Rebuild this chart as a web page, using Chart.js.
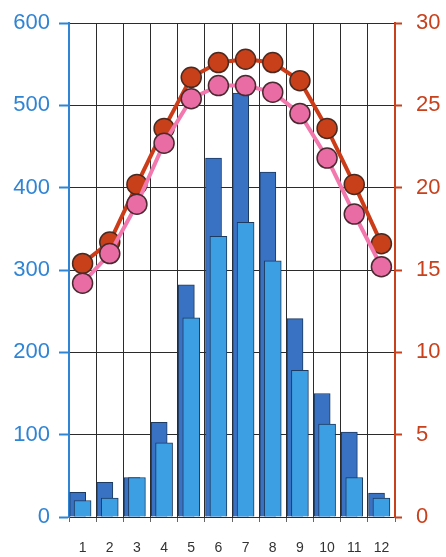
<!DOCTYPE html>
<html>
<head>
<meta charset="utf-8">
<script src="https://cdn.jsdelivr.net/npm/chart.js@4/dist/chart.umd.min.js"></script>
<style>
  html, body { margin: 0; padding: 0; background: #ffffff; }
  #wrap { width: 446px; height: 557px; position: relative; }
</style>
</head>
<body>
<div id="wrap"><canvas id="climate"></canvas></div>
<script>
// Month labels along the bottom
const months = ['1', '2', '3', '4', '5', '6', '7', '8', '9', '10', '11', '12'];

// Monthly precipitation (mm), two series drawn as overlapping bars
const rainDark = [30, 42, 48, 115, 282, 436, 515, 419, 241, 150, 103, 29];
const rainLight = [20, 23, 48, 90, 242, 341, 358, 311, 178, 113, 48, 23];

// Monthly temperatures (°C)
const tempHigh = [15.4, 16.7, 20.2, 23.6, 26.7, 27.6, 27.8, 27.6, 26.5, 23.6, 20.2, 16.6];
const tempLow = [14.2, 16.0, 19.0, 22.7, 25.4, 26.2, 26.2, 25.8, 24.5, 21.8, 18.4, 15.2];

// Axis tick steps
const rainTicks = { min: 0, max: 600, step: 100 };
const tempTicks = { min: 0, max: 30, step: 5 };

const BLUE_AXIS = '#2f84d4';
const RED_AXIS = '#c8401c';
const GRID = '#2b2b2b';

// The darker bars sit a little left of each month's centre: they use a
// hidden linear axis whose window is nudged by a fraction of a month.
const DARK_SHIFT = 0.18;

const chart = new Chart(document.getElementById('climate'), {
  data: {
    labels: months,
    datasets: [
      {
        type: 'line', label: 'low', data: tempLow, yAxisID: 'y2', xAxisID: 'x',
        order: 0, borderColor: '#f278ad', borderWidth: 4,
        pointRadius: 10, pointHoverRadius: 10,
        pointBackgroundColor: '#ea6ca4', pointBorderColor: '#4a2a30', pointBorderWidth: 1.5,
        tension: 0, clip: false
      },
      {
        type: 'line', label: 'high', data: tempHigh, yAxisID: 'y2', xAxisID: 'x',
        order: 1, borderColor: '#cc3c18', borderWidth: 4,
        pointRadius: 10, pointHoverRadius: 10,
        pointBackgroundColor: '#c8401a', pointBorderColor: '#4a2a20', pointBorderWidth: 1.5,
        tension: 0, clip: false
      },
      {
        type: 'bar', label: 'rain b', data: rainLight, yAxisID: 'y', xAxisID: 'x',
        order: 2, grouped: false, backgroundColor: '#3d9fe3', borderColor: '#1d3a60', borderWidth: 1,
        barThickness: 17
      },
      {
        type: 'bar', label: 'rain a',
        data: rainDark.map((v, i) => ({ x: i + 1, y: v })),
        yAxisID: 'y', xAxisID: 'xd',
        order: 3, grouped: false, backgroundColor: '#3a72c3', borderColor: '#1d3a60', borderWidth: 1,
        barThickness: 16
      }
    ]
  },
  options: {
    responsive: true,
    maintainAspectRatio: false,
    animation: false,
    layout: { padding: { top: 0, right: 0, left: 0, bottom: 0 } },
    plugins: { legend: { display: false }, tooltip: { enabled: false } },
    scales: {
      x: {
        type: 'category', position: 'bottom', offset: true,
        grid: { offset: true, color: GRID, lineWidth: 1, drawTicks: true, tickLength: 5, tickColor: '#666' },
        border: { color: GRID, width: 1 },
        ticks: { color: '#333', font: { family: 'Liberation Sans', size: 14 }, padding: 18, maxRotation: 0, autoSkip: false },
        afterFit: s => { s.height = 40; }
      },
      xd: {
        type: 'linear', position: 'bottom', display: false, offset: false,
        min: 0.5 + DARK_SHIFT, max: months.length + 0.5 + DARK_SHIFT
      },
      y: {
        type: 'linear', position: 'left',
        min: rainTicks.min, max: rainTicks.max,
        grid: { color: GRID, lineWidth: 1, tickLength: 10, tickColor: BLUE_AXIS, tickWidth: 2 },
        border: { color: BLUE_AXIS, width: 2 },
        ticks: { stepSize: rainTicks.step, color: BLUE_AXIS, font: { family: 'Liberation Sans', size: 22, lineHeight: 0.82 }, padding: 9 },
        afterFit: s => { s.width = 69; }
      },
      y2: {
        type: 'linear', position: 'right',
        min: tempTicks.min, max: tempTicks.max,
        grid: { drawOnChartArea: false, tickLength: 7, tickColor: RED_AXIS, tickWidth: 2 },
        border: { color: RED_AXIS, width: 2 },
        ticks: { stepSize: tempTicks.step, color: RED_AXIS, font: { family: 'Liberation Sans', size: 22, lineHeight: 0.82 }, padding: 14 },
        afterFit: s => { s.width = 51; }
      }
    }
  }
});
</script>
</body>
</html>
